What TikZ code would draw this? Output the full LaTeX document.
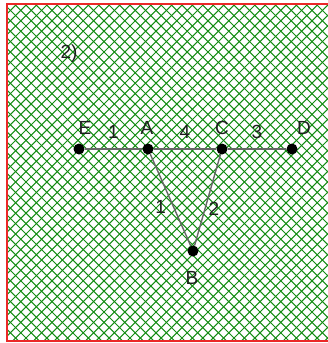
\documentclass[tikz,border=0pt]{standalone}
\usepackage{fontspec}
\setmainfont{Liberation Sans}
\usepackage{tikz}
\usetikzlibrary{positioning}
\definecolor{hatchgreen}{RGB}{20,140,20}
\definecolor{framered}{RGB}{235,40,40}
\definecolor{inkgray}{RGB}{30,30,30}
\tikzset{
  pt/.style={circle,fill=black,inner sep=0pt,minimum size=11pt},
  ptlabel/.style={font=\fontsize{19}{19}\selectfont,text=inkgray,inner sep=1pt},
  weight/.style={font=\fontsize{19}{19}\selectfont,text=inkgray,inner sep=1pt},
  edge/.style={draw=black!60,line width=1.4pt},
  hatch/.style={draw=hatchgreen,line width=1pt},
}

\begin{document}
\begin{tikzpicture}[x=1pt,y=-1pt]
  \useasboundingbox (0,0) rectangle (328,343);
  % crosshatched sheet
  \begin{scope}
    \clip (7,4) rectangle (332,341);
    \foreach \i in {-34,...,33}
      \draw[hatch] (\i*10.4,0) -- ++(343,343);
    \foreach \i in {0,...,66}
      \draw[hatch] (\i*10.4,0) -- ++(-343,343);
  \end{scope}
  \draw[framered,line width=1.5pt] (332,4) -- (7,4) -- (7,341) -- (332,341);
  \node (tag) [ptlabel] at (69,54) {2)};
  % points
  \node (E) [pt] at (79,149) {};
  \node (A) [pt] at (148,149) {};
  \node (C) [pt] at (222,149) {};
  \node (D) [pt] at (292,149) {};
  \node (B) [pt] at (193,251) {};
  \node (lE) [ptlabel] at (85,128) {E};
  \node (lA) [ptlabel] at (147,128) {A};
  \node (lC) [ptlabel] at (222,128) {C};
  \node (lD) [ptlabel] at (304,128) {D};
  \node (lB) [ptlabel] at (192,278) {B};
  % edges
  \draw[edge] (E) -- node[weight,above=9pt]{1} (A);
  \draw[edge] (A) -- node[weight,above=9pt]{4} (C);
  \draw[edge] (C) -- node[weight,above=9pt]{3} (D);
  \draw[edge] (A) -- node[weight,left=6pt,pos=0.58]{1} (B);
  \draw[edge] (C) -- node[weight,right=2pt,pos=0.6]{2} (B);
\end{tikzpicture}
\end{document}
